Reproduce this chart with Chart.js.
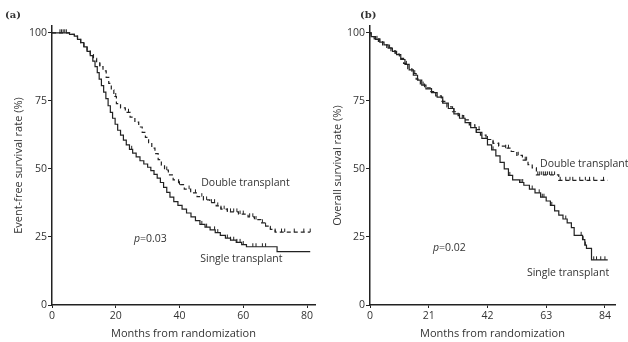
<!DOCTYPE html>
<html>
<head>
<meta charset="utf-8">
<script src="https://cdn.jsdelivr.net/npm/chart.js@4.4.1/dist/chart.umd.min.js"></script>
<style>
  body { margin: 0; background: #fff; width: 628px; height: 342px; position: relative; overflow: hidden; }
  canvas { position: absolute; top: 0; }
  #chartA { left: 0; }
  #chartB { left: 320px; }
</style>
</head>
<body>
<canvas id="chartA" width="320" height="342"></canvas>
<canvas id="chartB" width="308" height="342"></canvas>
<script>
// Kaplan-Meier curves: [month, survival % after the event at that month]
const efsSingle = [
  [0, 100], [5.5, 99.4], [7, 98.8], [8, 97.6], [9, 96.4], [10, 94.8], [11, 93.2], [12, 91.6],
  [12.8, 89.6], [13.5, 87.6], [14.2, 85.4], [14.8, 83.0], [15.5, 80.6], [16.2, 78.2], [16.9, 75.8],
  [17.6, 73.2], [18.3, 70.8], [19.0, 68.6], [19.8, 66.4], [20.6, 64.2], [21.5, 62.4], [22.4, 60.6],
  [23.3, 58.8], [24.3, 57.2], [25.3, 55.8], [26.4, 54.4], [27.6, 53.0], [28.8, 51.8], [30.0, 50.6],
  [31.0, 49.4], [32.0, 48.0], [33.0, 46.6], [34.0, 45.0], [35.0, 43.2], [36.0, 41.4], [37.0, 39.6],
  [38.2, 38.0], [39.5, 36.6], [40.8, 35.2], [42.2, 33.8], [43.6, 32.4], [45.0, 31.0], [46.4, 29.6],
  [48.0, 28.6], [49.6, 27.6], [51.2, 26.6], [52.8, 25.6], [54.4, 24.6], [56.0, 23.8], [57.8, 23.0],
  [59.5, 22.2], [61.0, 21.4], [70.6, 19.6], [81, 19.6]
];
const efsDouble = [
  [0, 100], [5.5, 99.4], [7, 98.8], [8, 97.6], [9, 96.4], [10, 95.0], [11, 93.6], [12, 92.0],
  [13, 90.6], [14, 89.0], [15, 87.6], [16, 86.0], [17, 83.6], [17.8, 81.4], [18.6, 79.0], [19.4, 76.6],
  [20.2, 74.0], [21.5, 72.4], [23.0, 70.8], [24.5, 69.0], [26.0, 67.2], [27.2, 65.4], [28.3, 63.4],
  [29.3, 61.6], [30.3, 59.6], [31.3, 57.6], [32.3, 55.6], [33.3, 53.4], [34.3, 51.4], [35.3, 49.6],
  [36.5, 47.8], [38.0, 46.0], [39.7, 44.2], [41.5, 42.6], [43.5, 41.2], [45.5, 39.8], [47.5, 38.6],
  [49.5, 37.6], [51.5, 36.4], [53.0, 35.2], [55.0, 34.2], [58.5, 33.4], [61.5, 32.4], [63.5, 31.4],
  [65.5, 30.2], [67.0, 29.0], [68.5, 27.8], [70.0, 26.8], [81, 26.8]
];
const osSingle = [
  [0, 100], [0.4, 98.6], [2, 97.6], [3.5, 96.6], [5, 95.6], [6.5, 94.4], [8, 93.2], [9.5, 92.0],
  [11, 90.2], [12.5, 88.4], [14, 86.4], [15.5, 84.4], [17, 82.6], [18.5, 80.8], [20, 79.4], [22, 78.0],
  [24, 76.4], [26, 74.2], [28, 72.2], [30, 70.2], [32, 68.6], [34, 67.0], [36, 65.2], [38, 63.4],
  [40, 61.2], [42, 58.8], [43.5, 57.0], [45, 54.8], [46.5, 52.4], [48, 50.0], [49.5, 47.6], [51, 46.0],
  [53.5, 45.0], [55, 44.0], [57, 42.6], [59, 41.2], [61, 39.6], [63, 38.2], [64.5, 36.6], [66, 34.6],
  [67.5, 33.0], [69, 31.6], [70.5, 30.2], [72, 28.4], [73, 25.6], [76, 24.0], [76.8, 22.0],
  [77.4, 20.8], [79.2, 16.6], [85, 16.6]
];
const osDouble = [
  [0, 100], [0.4, 98.6], [1.5, 97.8], [3, 96.8], [4.5, 95.6], [6, 94.6], [7.5, 93.4], [9, 92.2],
  [10.5, 90.6], [12, 88.8], [13.5, 86.8], [15, 85.0], [16.5, 83.0], [18, 81.2], [19.5, 79.8],
  [21.5, 78.4], [23.5, 76.8], [25.5, 74.8], [27.5, 72.8], [29.5, 71.0], [31.5, 69.6], [33.5, 68.0],
  [35.5, 66.2], [37.5, 64.4], [39.5, 62.4], [41.5, 60.8], [44, 59.4], [46, 58.4], [48.5, 57.6],
  [50.5, 56.4], [52.5, 55.0], [54.5, 53.2], [56.5, 51.6], [58.0, 50.4], [59.5, 47.8], [67.5, 45.8],
  [85, 45.8]
];

// censored patients (months)
const efsSingleCensored = [3, 4, 25, 47, 48.5, 51, 52, 55, 56, 57, 58, 59, 60, 63, 64, 66, 67];
const efsDoubleCensored = [2.5, 3.5, 4.5, 15, 20, 24, 36, 40, 43, 45, 47, 48.5, 50, 51, 52, 53, 54, 55,
  56, 57, 58, 59, 60, 62, 63, 64, 66, 67, 68.5, 70, 72, 73, 76, 79, 81];
const osSingleCensored = [2.5, 7, 13, 19, 26, 33, 38, 44, 50, 54, 54.6, 58, 60.5, 61, 61.6, 62.2, 65,
  70, 75.5, 76.2, 77, 80, 81, 82.5, 84];
const osDoubleCensored = [3.5, 9, 16, 22, 30, 39, 42, 44, 46, 48.5, 49.5, 53, 55.5, 56, 60, 60.7, 61.4,
  62.1, 62.8, 63.5, 64.2, 65, 66, 68, 70, 71.5, 72.5, 75, 77, 78.5, 80, 83.5];

const efsMonthTicks = [0, 20, 40, 60, 80];
const osMonthTicks = [0, 21, 42, 63, 84];
const rateTicks = [0, 25, 50, 75, 100];

const INK = '#222';
const TEXT = '#333';
const FONT = "'Open Sans', sans-serif";

function survivalAt(curve, t) {
  let s = curve[0][1];
  for (const [m, v] of curve) {
    if (m <= t) s = v; else break;
  }
  return s;
}

function curveDataset(curve, dashed) {
  return {
    type: 'line',
    data: curve.map(([x, y]) => ({ x, y })),
    stepped: 'before',
    borderColor: INK,
    borderWidth: 1.2,
    borderDash: dashed ? [4, 3] : [],
    pointRadius: 0,
    fill: false
  };
}

// small upward tick on the curve for each censored patient
function censorDataset(curve, months) {
  return {
    type: 'scatter',
    data: months.map(m => ({ x: m, y: survivalAt(curve, m) })),
    pointStyle: 'dash',
    rotation: 270,
    pointRadius: 3.5,
    borderColor: INK,
    borderWidth: 1,
    showLine: false
  };
}

// writes the panel letter, curve names and p value
const notesPlugin = {
  id: 'notes',
  afterDraw(chart) {
    const o = chart.options.plugins.notes;
    const { ctx, scales: { x, y } } = chart;
    ctx.save();
    ctx.fillStyle = TEXT;
    ctx.textBaseline = 'middle';
    ctx.font = "bold 10px 'DejaVu Serif', serif";
    ctx.fillText(o.panel, o.panelX, 15);
    ctx.font = '10.5px ' + FONT;
    o.labels.forEach(l => ctx.fillText(l.text, x.getPixelForValue(l.x), y.getPixelForValue(l.y)));
    const px = x.getPixelForValue(o.p.x), py = y.getPixelForValue(o.p.y);
    ctx.font = 'italic 10.5px ' + FONT;
    ctx.fillText('p', px, py);
    const w = ctx.measureText('p').width;
    ctx.font = '10.5px ' + FONT;
    ctx.fillText('=' + o.p.value, px + w, py);
    ctx.restore();
  }
};

function makeChart(id, cfg) {
  return new Chart(document.getElementById(id), {
    data: {
      datasets: [
        curveDataset(cfg.single, false),
        curveDataset(cfg.double, true),
        censorDataset(cfg.single, cfg.singleCensored),
        censorDataset(cfg.double, cfg.doubleCensored)
      ]
    },
    options: {
      responsive: false,
      animation: false,
      layout: { padding: { left: 0, right: cfg.padRight, top: 26, bottom: 0 } },
      plugins: {
        legend: { display: false },
        tooltip: { enabled: false },
        notes: cfg.notes
      },
      scales: {
        x: {
          type: 'linear',
          min: 0,
          max: cfg.xMax,
          afterBuildTicks: s => { s.ticks = cfg.monthTicks.map(v => ({ value: v })); },
          afterFit: s => { s.height = 37; },
          ticks: { color: TEXT, font: { family: FONT, size: 10.5 }, padding: 2, maxRotation: 0 },
          grid: { drawOnChartArea: false, drawTicks: true, tickLength: 3, color: INK, lineWidth: 1 },
          border: { display: true, color: INK, width: 1.5 },
          title: { display: true, text: 'Months from randomization', color: TEXT,
                   font: { family: FONT, size: 11 }, padding: { top: 0, bottom: 2 } }
        },
        y: {
          min: 0,
          max: 102.5,
          afterBuildTicks: s => { s.ticks = rateTicks.map(v => ({ value: v })); },
          afterFit: s => { s.width = cfg.yWidth; },
          ticks: { color: TEXT, font: { family: FONT, size: 10.5 }, padding: 1 },
          grid: { drawOnChartArea: false, drawTicks: true, tickLength: 4, color: INK, lineWidth: 1 },
          border: { display: true, color: INK, width: 1.5 },
          title: { display: true, text: cfg.yTitle, color: TEXT,
                   font: { family: FONT, size: 11 }, padding: { top: cfg.yTitlePad, bottom: 0 } }
        }
      }
    },
    plugins: [notesPlugin]
  });
}

makeChart('chartA', {
  single: efsSingle, double: efsDouble,
  singleCensored: efsSingleCensored, doubleCensored: efsDoubleCensored,
  monthTicks: efsMonthTicks, xMax: 82.5, yWidth: 52, padRight: 2, yTitlePad: 12,
  yTitle: 'Event-free survival rate (%)',
  notes: {
    panel: '(a)', panelX: 5,
    labels: [
      { text: 'Double transplant', x: 46.8, y: 44.9 },
      { text: 'Single transplant', x: 46.5, y: 16.9 }
    ],
    p: { value: '0.03', x: 25.7, y: 24.3 }
  }
});

makeChart('chartB', {
  single: osSingle, double: osDouble,
  singleCensored: osSingleCensored, doubleCensored: osDoubleCensored,
  monthTicks: osMonthTicks, xMax: 87.6, yWidth: 50, padRight: 13, yTitlePad: 11,
  yTitle: 'Overall survival rate (%)',
  notes: {
    panel: '(b)', panelX: 40,
    labels: [
      { text: 'Double transplant', x: 60.8, y: 51.7 },
      { text: 'Single transplant', x: 56.1, y: 11.9 }
    ],
    p: { value: '0.02', x: 22.5, y: 20.8 }
  }
});
</script>
</body>
</html>
